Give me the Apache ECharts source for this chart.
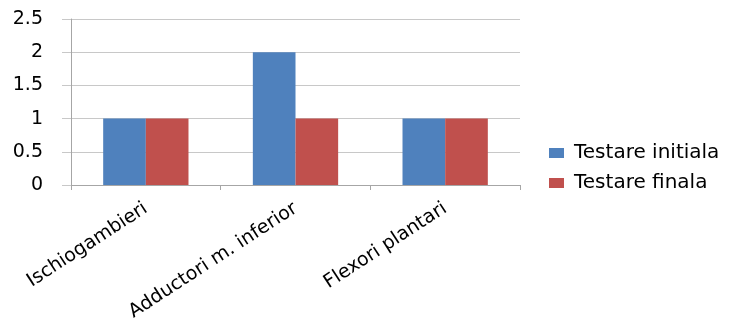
<!DOCTYPE html>
<html>
<head>
<meta charset="utf-8">
<script src="https://cdn.jsdelivr.net/npm/echarts@6/dist/echarts.min.js"></script>
<style>
  html, body { margin: 0; padding: 0; background: #fff; }
  #chart { width: 744px; height: 320px; }
</style>
</head>
<body>
<div id="chart"></div>
<script>
// Muscle groups tested
const categories = ['Ischiogambieri', 'Adductori m. inferior', 'Flexori plantari'];
// Scores at the initial and final tests
const initialScores = [1, 2, 1];
const finalScores = [1, 1, 1];
const seriesNames = ['Testare initiala', 'Testare finala'];

const chart = echarts.init(document.getElementById('chart'));
chart.setOption({
  animation: false,
  backgroundColor: '#ffffff',
  textStyle: { fontFamily: 'DejaVu Sans' },
  grid: {
    left: 71,
    right: 224,
    top: 19,
    bottom: 135,
    containLabel: false,
    outerBoundsMode: 'none'
  },
  legend: {
    orient: 'vertical',
    left: 549,
    top: 143,
    padding: 0,
    icon: 'rect',
    itemWidth: 15,
    itemHeight: 10,
    itemGap: 10,
    textStyle: {
      fontSize: 20,
      lineHeight: 20,
      color: '#000',
      fontFamily: 'DejaVu Sans',
      padding: [0, 0, 0, 5]
    },
    data: seriesNames
  },
  xAxis: {
    type: 'category',
    data: categories,
    axisLine: { show: true, lineStyle: { color: '#a6a6a6', width: 1 } },
    axisTick: { show: true, length: 5, lineStyle: { color: '#a6a6a6' } },
    axisLabel: {
      rotate: 33,
      margin: 22,
      fontSize: 19,
      color: '#000',
      fontFamily: 'DejaVu Sans',
      interval: 0
    }
  },
  yAxis: {
    type: 'value',
    min: 0,
    max: 2.5,
    interval: 0.5,
    axisLine: { show: true, lineStyle: { color: '#a6a6a6', width: 1 } },
    axisTick: { show: true, length: 9, lineStyle: { color: '#c8c8c8' } },
    splitLine: { show: true, lineStyle: { color: '#c8c8c8', width: 1 } },
    axisLabel: {
      margin: 28,
      fontSize: 19,
      color: '#000',
      fontFamily: 'DejaVu Sans'
    }
  },
  series: [
    {
      name: seriesNames[0],
      type: 'bar',
      data: initialScores,
      barGap: '0%',
      barCategoryGap: '43%',
      itemStyle: { color: '#4f81bd' }
    },
    {
      name: seriesNames[1],
      type: 'bar',
      data: finalScores,
      barGap: '0%',
      barCategoryGap: '43%',
      itemStyle: { color: '#c0504d' }
    }
  ]
});
</script>
</body>
</html>
